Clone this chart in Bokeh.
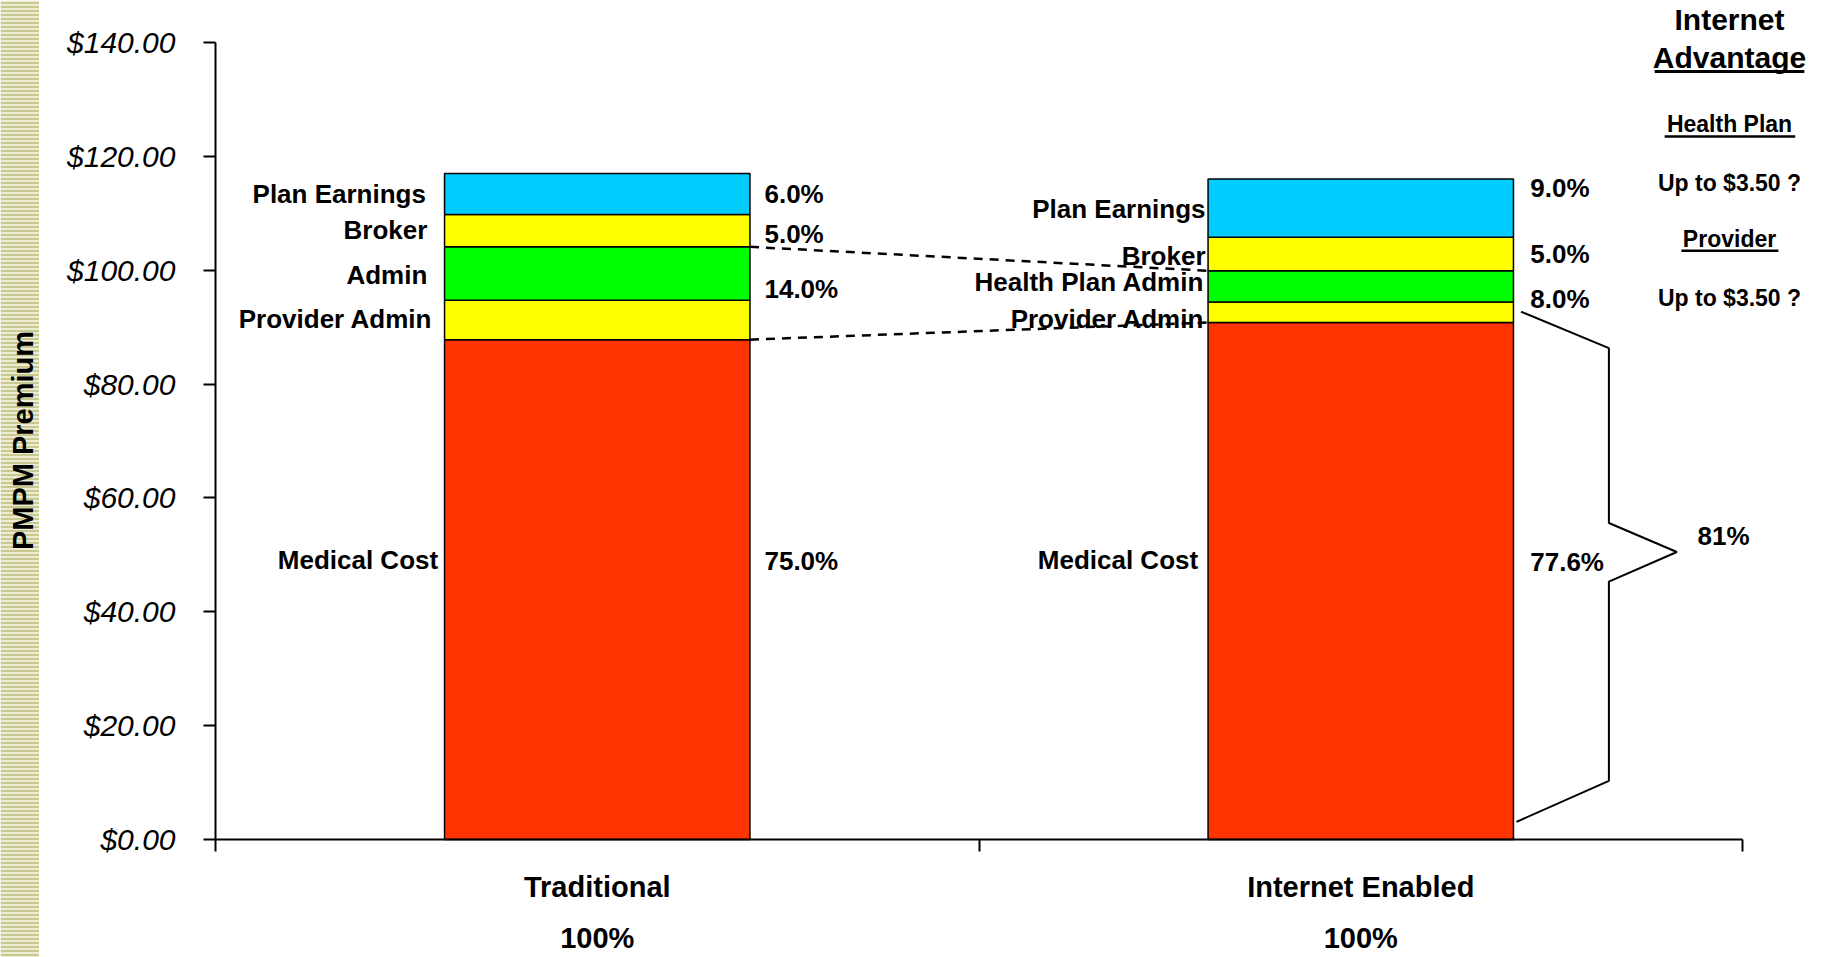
import math
from bokeh.plotting import figure
from bokeh.layouts import row
from bokeh.models import Range1d, FixedTicker, NumeralTickFormatter, LinearAxis, ColumnDataSource
from bokeh.embed import file_html
from bokeh.resources import INLINE
from bokeh.core.properties import value

FONT = "Liberation Sans"

# ---------------- data ----------------
categories = ["Traditional", "Internet Enabled"]
category_share = ["100%", "100%"]
trad_segments = ["Medical Cost", "Provider Admin", "Admin", "Broker", "Plan Earnings"]
inet_segments = ["Medical Cost", "Provider Admin", "Health Plan Admin", "Broker", "Plan Earnings"]
trad_values = [87.8, 6.9, 9.4, 5.7, 7.2]
inet_values = [90.8, 3.6, 5.5, 5.9, 10.2]
seg_colors = ["#FF3300", "#FFFF00", "#00FF00", "#FFFF00", "#00CCFF"]
trad_pct = ["75.0%", "14.0%", "5.0%", "6.0%"]
inet_pct = ["77.6%", "8.0%", "5.0%", "9.0%"]
bracket_label = "81%"
y_ticks = [0, 20, 40, 60, 80, 100, 120, 140]
side_title = ["Internet", "Advantage"]
side_lines = ["Health Plan", "Up to $3.50 ?", "Provider", "Up to $3.50 ?"]

# ---------------- layout (label placement) ----------------
trad_label_x = [0.2916, 0.284, 0.2774, 0.2774, 0.2756]
trad_label_y = [49.1, 91.5, 99.1, 107.1, 113.4]
inet_label_x = [1.287, 1.295, 1.295, 1.2967, 1.2967]
inet_label_y = [49.1, 91.5, 97.9, 102.5, 110.8]
trad_pct_y = [48.9, 96.7, 106.4, 113.4]
inet_pct_y = [48.8, 95.0, 102.9, 114.4]

BAR_W = 0.4
W, H = 1825, 957
STRIP_W = 39

p = figure(width=W - STRIP_W, height=H,
           x_range=Range1d(-0.00262, 2.1087), y_range=Range1d(-0.351, 147.368),
           output_backend="svg", toolbar_location=None, title=None,
           min_border_left=174, min_border_right=0, min_border_top=0, min_border_bottom=116)
p.frame_align = False
p.grid.visible = False
p.outline_line_color = None
p.background_fill_color = "white"
p.border_fill_color = "white"

# stacked bars
for i, vals in enumerate([trad_values, inet_values]):
    bottoms, tops = [], []
    acc = 0.0
    for v in vals:
        bottoms.append(acc)
        acc += v
        tops.append(acc)
    src = ColumnDataSource(dict(x=[i + 0.5] * len(vals), bottom=bottoms, top=tops, color=seg_colors))
    p.vbar(x="x", width=BAR_W, bottom="bottom", top="top", fill_color="color",
           line_color="black", line_width=1.5, source=src)

# axis lines (end at the last tick, as in the reference)
p.segment(x0=[0, 0], y0=[0, 0], x1=[0, 2], y1=[y_ticks[-1], 0], line_color="black", line_width=2)

# dashed connectors between the bars
def cum(vals, n):
    return sum(vals[:n])

p.segment(x0=[0.5 + BAR_W / 2] * 2, y0=[cum(trad_values, 3), cum(trad_values, 1)],
          x1=[1.5 - BAR_W / 2] * 2, y1=[cum(inet_values, 3), cum(inet_values, 1)],
          line_color="black", line_width=2.5, line_dash="9 7")

# segment labels
lbl_kw = dict(text_font=value(FONT), text_font_style="bold", text_font_size="26px",
              text_color="black", text_baseline="middle")
p.text(x=trad_label_x, y=trad_label_y, text=trad_segments, text_align="right", **lbl_kw)
p.text(x=inet_label_x, y=inet_label_y, text=inet_segments, text_align="right", **lbl_kw)
p.text(x=[0.719] * 4, y=trad_pct_y, text=trad_pct, text_align="left", **lbl_kw)
p.text(x=[1.722] * 4, y=inet_pct_y, text=inet_pct, text_align="left", **lbl_kw)

# bracket
p.line(x=[1.710, 1.825, 1.825, 1.914, 1.825, 1.825, 1.704],
       y=[92.7, 86.3, 55.6, 50.5, 45.3, 10.3, 3.1], line_color="black", line_width=2)
p.text(x=[1.941], y=[53.3], text=[bracket_label], text_align="left", **lbl_kw)

# side panel
cx = 1.983
side_kw = dict(text_font=value(FONT), text_font_style="bold", text_color="black",
               text_baseline="middle", text_align="center")
p.text(x=[cx, cx], y=[144.0, 137.4], text=side_title, text_font_size="30px", **side_kw)
p.text(x=[cx] * 4, y=[125.6, 115.3, 105.4, 95.2], text=side_lines, text_font_size="23px", **side_kw)
p.segment(x0=[1.885], y0=[134.9], x1=[2.081], y1=[134.9], line_color="black", line_width=3)
p.segment(x0=[1.898, 1.920], y0=[123.5, 103.4], x1=[2.069, 2.047], y1=[123.5, 103.4],
          line_color="black", line_width=2.5)

# y axis
ya = p.yaxis[0]
ya.ticker = FixedTicker(ticks=y_ticks)
ya.formatter = NumeralTickFormatter(format="$0.00")
ya.axis_line_color = None
ya.major_tick_out = 10
ya.major_tick_in = 2
ya.major_tick_line_width = 2
ya.minor_tick_line_color = None
ya.major_label_standoff = 28
ya.major_label_text_font = FONT
ya.major_label_text_font_style = "italic"
ya.major_label_text_font_size = "30px"
ya.major_label_text_color = "black"

# x axis: category names, ticks between categories
xa = p.xaxis[0]
xa.ticker = FixedTicker(ticks=[0.5, 1.5], minor_ticks=[0, 1, 2])
xa.major_label_overrides = {0.5: categories[0], 1.5: categories[1]}
xa.axis_line_color = None
xa.major_tick_line_color = None
xa.major_tick_out = 10
xa.major_tick_in = 0
xa.minor_tick_out = 10
xa.minor_tick_in = 2
xa.minor_tick_line_width = 2
xa.minor_tick_line_color = "black"
xa.major_label_standoff = 19
xa.major_label_text_font = FONT
xa.major_label_text_font_style = "bold"
xa.major_label_text_font_size = "29px"
xa.major_label_text_color = "black"

xa2 = LinearAxis(ticker=FixedTicker(ticks=[0.5, 1.5]),
                 major_label_overrides={0.5: category_share[0], 1.5: category_share[1]})
xa2.axis_line_color = None
xa2.major_tick_line_color = None
xa2.minor_tick_line_color = None
xa2.major_tick_out = 0
xa2.major_tick_in = 0
xa2.minor_tick_out = 0
xa2.major_label_standoff = 16
xa2.major_label_text_font = FONT
xa2.major_label_text_font_style = "bold"
xa2.major_label_text_font_size = "29px"
xa2.major_label_text_color = "black"
p.add_layout(xa2, "below")

# left decorative strip with the axis title
s = figure(width=STRIP_W, height=H, x_range=Range1d(0, 1), y_range=Range1d(0, H),
           output_backend="svg", toolbar_location=None, title=None, min_border=0)
s.frame_align = False
s.axis.visible = False
s.grid.visible = False
s.outline_line_color = None
s.quad(left=[0], right=[1], bottom=[0], top=[H], fill_color="#ECECD2", line_color=None,
       hatch_pattern="horizontal_line", hatch_color="#C8C890", hatch_scale=4, hatch_weight=2)
s.text(x=[0.577], y=[517], text=["PMPM Premium"], angle=math.pi / 2, text_align="center",
       text_baseline="middle", text_font=value(FONT), text_font_style="bold",
       text_font_size="29px", text_color="black")

layout = row(s, p)
open("out.html", "w").write(file_html(layout, INLINE))
